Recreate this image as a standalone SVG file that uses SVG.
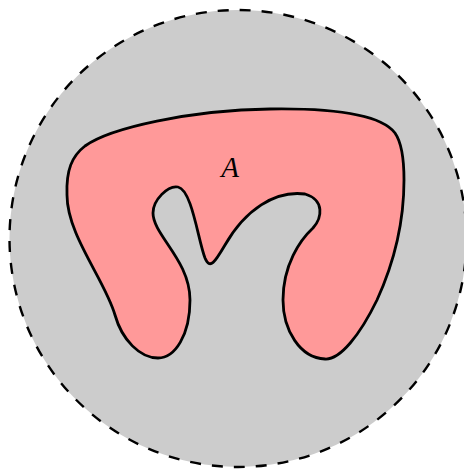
<svg xmlns="http://www.w3.org/2000/svg" width="464" height="469" viewBox="0 0 464 469">
<style>
.disk{fill:#cccccc;stroke:#000;stroke-width:2.4;stroke-dasharray:11 11}
.blob{fill:#ff9999;stroke:#000;stroke-width:2.8;stroke-linejoin:round}
.lbl{font-family:"Liberation Serif",serif;font-style:italic;font-size:29px;fill:#000}
</style>
<rect width="464" height="469" fill="#fff"/>
<g id="disk">
<circle class="disk" cx="238" cy="238.5" r="228.5"/>
</g>
<g id="setA">
<path class="blob" d="M 67,195 C 66,170 72,156 85,146 C 110,128 190,110 270,109 C 340,108 382,116 395,133 C 402,143 404,160 404,180 C 404,225 393,265 377,300 C 360,335 340,360 325,359 C 300,358 283,330 283,300 C 283,265 300,240 313,228 C 322,218 325,200 305,194 C 275,190 245,210 225,245 C 215,262 210,270 205,258 C 198,240 192,190 178,187 C 168,185 153,200 153,213 C 153,235 190,260 190,300 C 190,335 175,358 158,358 C 140,358 122,340 115,315 C 105,280 67,235 67,195 Z"/>
<text class="lbl" x="230" y="177" text-anchor="middle">A</text>
</g>
</svg>
